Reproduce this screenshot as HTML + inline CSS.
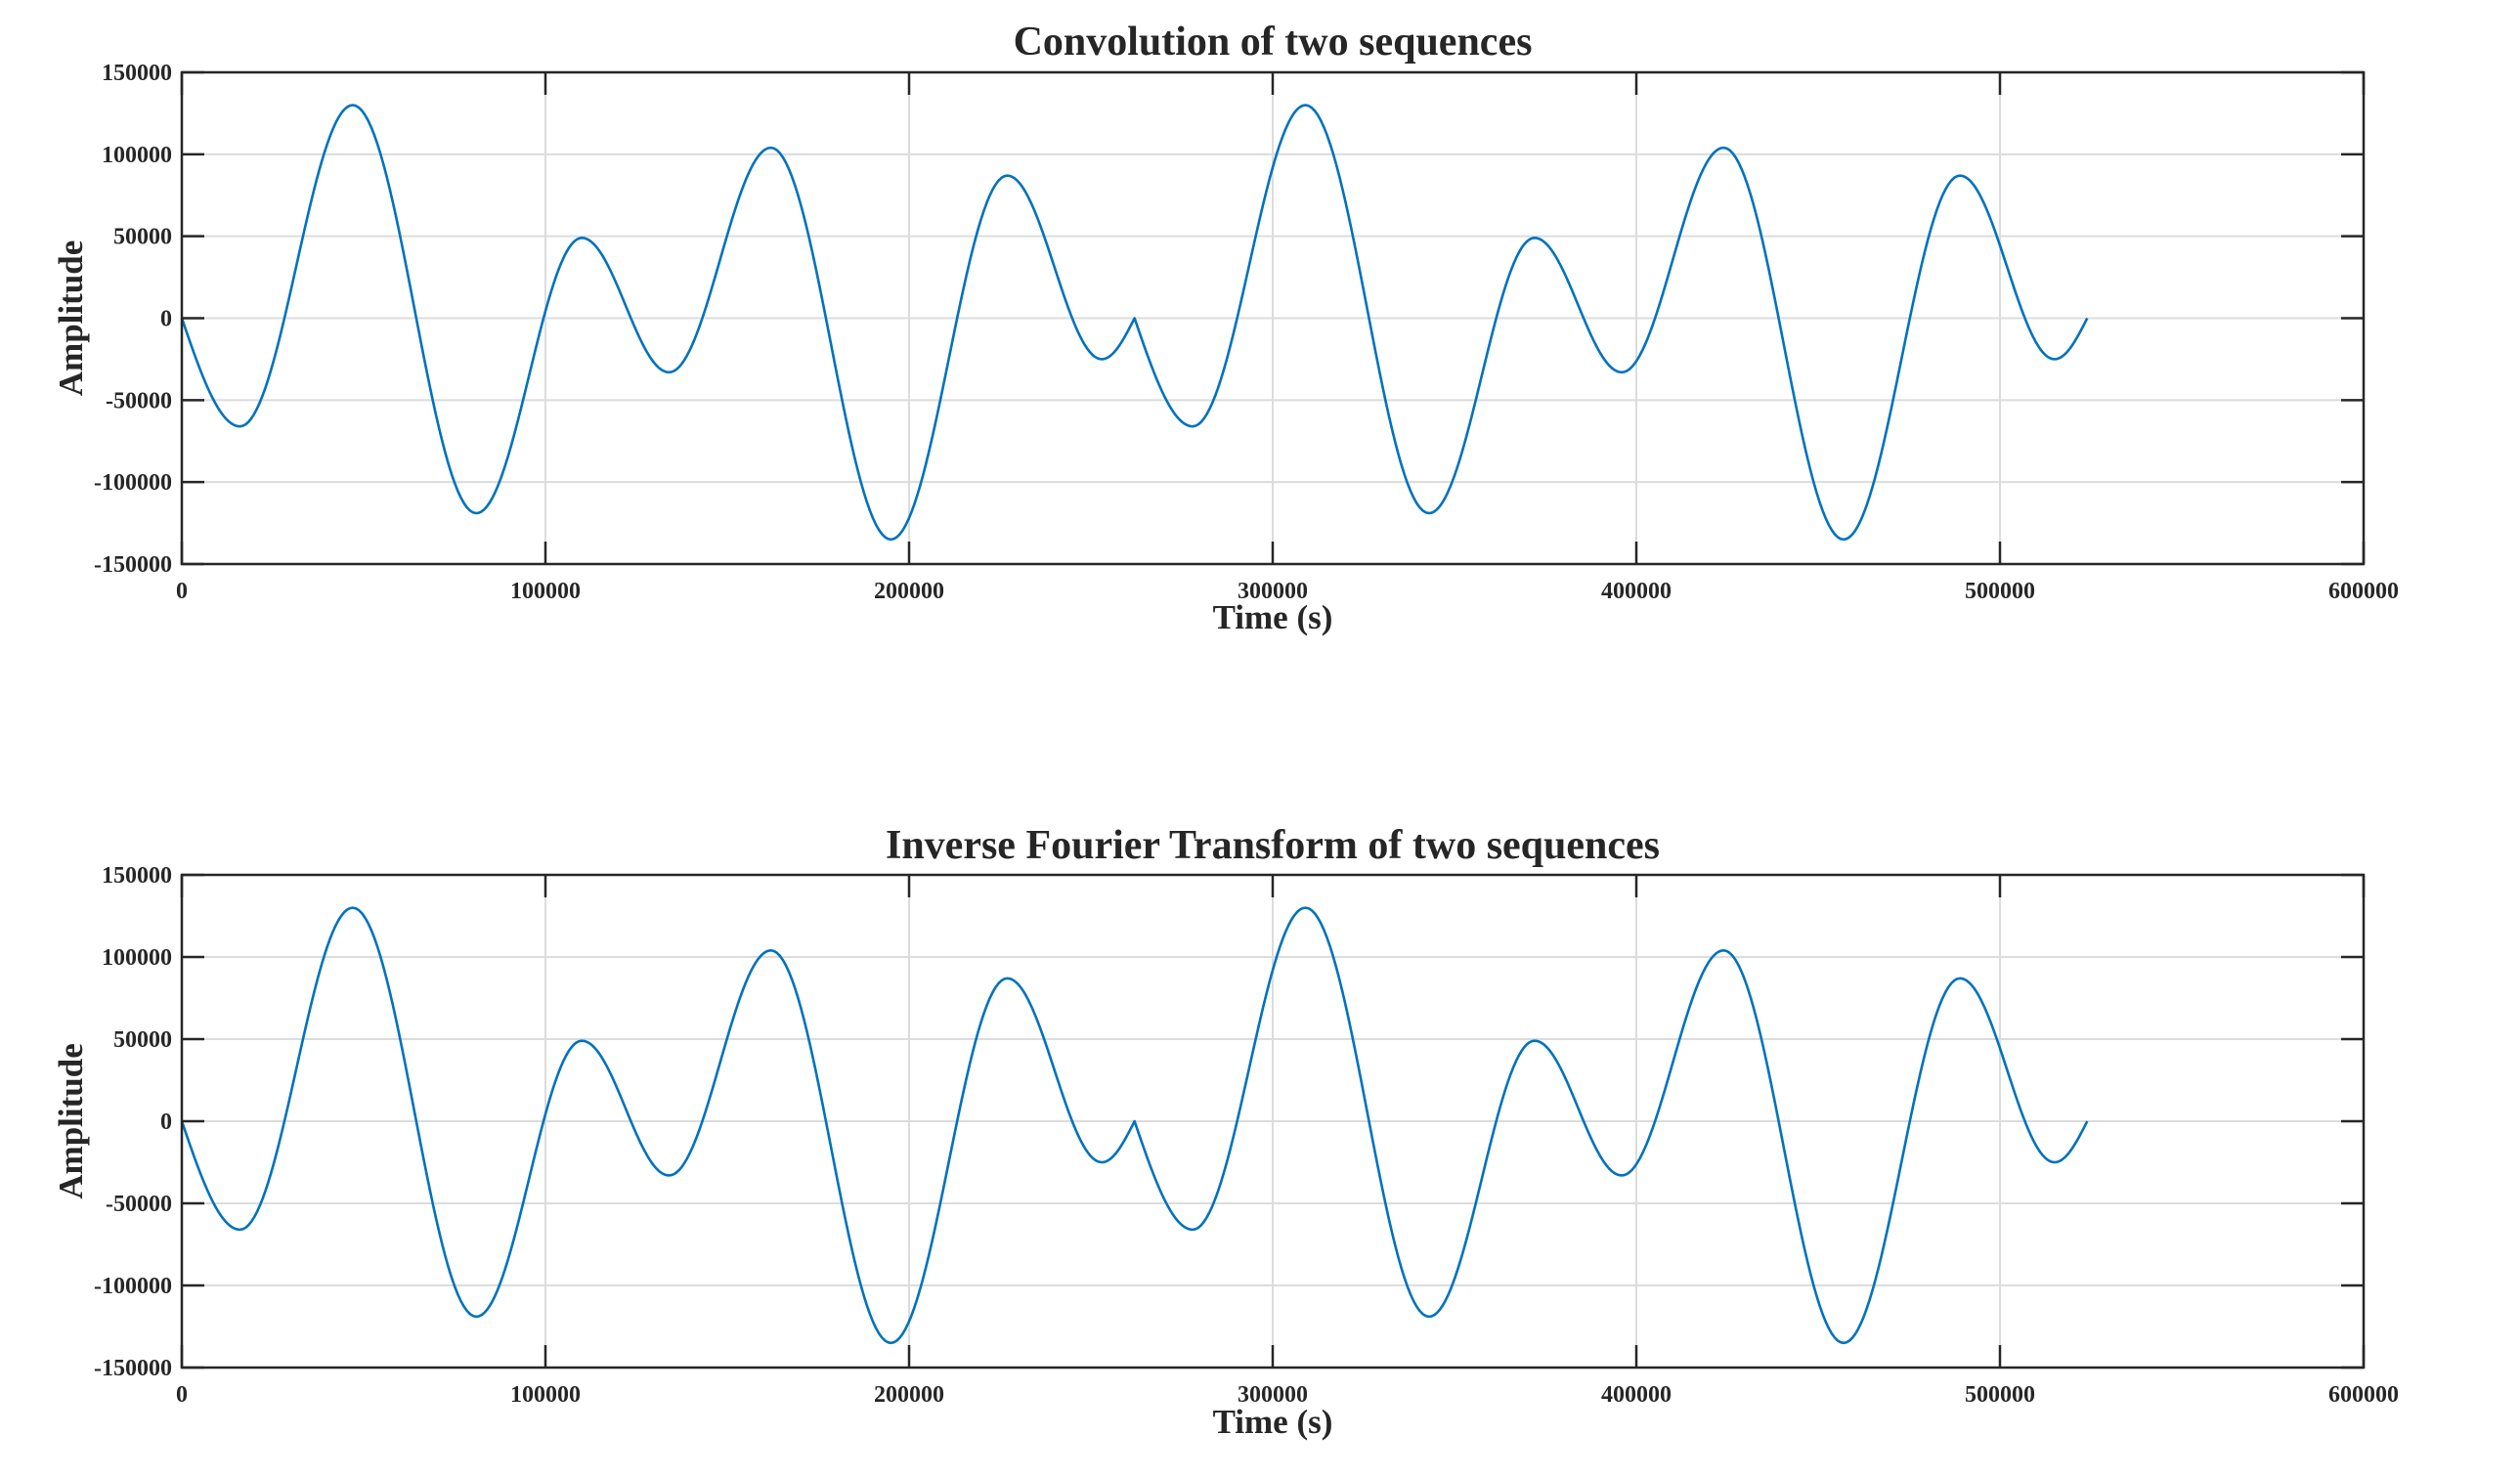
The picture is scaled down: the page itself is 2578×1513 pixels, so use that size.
<!DOCTYPE html>
<html><head><meta charset="utf-8"><style>
html,body{margin:0;padding:0;background:#fff;}
svg text{font-family:"Liberation Serif",serif;font-weight:bold;fill:#262626;}
</style></head><body>
<svg id="fig" width="2578" height="1508" viewBox="0 0 2578 1508" xmlns="http://www.w3.org/2000/svg"></svg>
<script>
const xTicks=[0,100000,200000,300000,400000,500000,600000];
const yTicks=[-150000,-100000,-50000,0,50000,100000,150000];
const seriesX=[0,16000,47000,81000,110000,134000,162000,195000,227000,253000,262000,
278000,309000,343000,372000,396000,424000,457000,489000,515000,524000];
const seriesY=[0,-66000,130000,-119000,49000,-33000,104000,-135000,87000,-25000,0,
-66000,130000,-119000,49000,-33000,104000,-135000,87000,-25000,0];
const titles=["Convolution of two sequences","Inverse Fourier Transform of two sequences"];
const NS="http://www.w3.org/2000/svg";
const svg=document.getElementById('fig');
function mk(tag,attrs,parent){const e=document.createElementNS(NS,tag);for(const k in attrs)e.setAttribute(k,attrs[k]);(parent||svg).appendChild(e);return e;}
function curvePath(xs,ys,sx,sy){
 let p='M'+sx(xs[0]).toFixed(2)+','+sy(ys[0]).toFixed(2);
 for(let i=0;i<xs.length-1;i++){
  const a=ys[i],b=ys[i+1],N=40;
  for(let k=1;k<=N;k++){const t=k/N;let y;
   if(a===0&&b!==0) y=b*Math.sin(Math.PI/2*t);
   else if(b===0&&a!==0) y=a*Math.cos(Math.PI/2*t);
   else y=a+(b-a)*(1-Math.cos(Math.PI*t))/2;
   const x=xs[i]+(xs[i+1]-xs[i])*t;
   p+=' L'+sx(x).toFixed(2)+','+sy(y).toFixed(2);}
 }
 return p;}
const L=186,R=2418;
const panels=[{top:74,bot:577,title:42,xl:632},{top:895,bot:1399,title:864,xl:1455}];
panels.forEach((P,pi)=>{
 const g=mk('g',{});
 
 
 const sx=v=>L+(v-xTicks[0])/(xTicks[xTicks.length-1]-xTicks[0])*(R-L);
 const sy=v=>P.bot-(v-yTicks[0])/(yTicks[yTicks.length-1]-yTicks[0])*(P.bot-P.top);
 xTicks.forEach(t=>{const l=mk('line',{x1:sx(t),x2:sx(t),y1:P.top,y2:P.bot,stroke:'#dcdcdc','stroke-width':2},g);
  });
 yTicks.forEach(t=>{const l=mk('line',{x1:L,x2:R,y1:sy(t),y2:sy(t),stroke:'#dcdcdc','stroke-width':2},g);
  });
 const pth=mk('path',{d:curvePath(seriesX,seriesY,sx,sy),fill:'none',stroke:'#0072BD','stroke-width':2.6,'stroke-linejoin':'round'},g);
 
 const box=mk('rect',{x:L,y:P.top,width:R-L,height:P.bot-P.top,fill:'none',stroke:'#262626','stroke-width':2.5},g);
 
 xTicks.forEach(t=>{
  mk('line',{x1:sx(t),x2:sx(t),y1:P.bot,y2:P.bot-23,stroke:'#262626','stroke-width':2.5},g);
  mk('line',{x1:sx(t),x2:sx(t),y1:P.top,y2:P.top+23,stroke:'#262626','stroke-width':2.5},g);
  const tx=mk('text',{x:sx(t),y:P.bot+35,'text-anchor':'middle','font-size':24},g);tx.textContent=String(t);
  });
 yTicks.forEach(t=>{
  mk('line',{x1:L,x2:L+23,y1:sy(t),y2:sy(t),stroke:'#262626','stroke-width':2.5},g);
  mk('line',{x1:R,x2:R-23,y1:sy(t),y2:sy(t),stroke:'#262626','stroke-width':2.5},g);
  const tx=mk('text',{x:L-10,y:sy(t)+8,'text-anchor':'end','font-size':24},g);tx.textContent=String(t);
  });
 const ti=mk('text',{x:(L+R)/2,y:P.title+14,'text-anchor':'middle','font-size':42,fill:'#000'},g);ti.textContent=titles[pi];
 
 const xl=mk('text',{x:(L+R)/2,y:P.xl+11,'text-anchor':'middle','font-size':35},g);xl.textContent='Time (s)';
 
 const cy=(P.top+P.bot)/2;
 const yl=mk('text',{x:84,y:cy,'text-anchor':'middle','font-size':35,transform:'rotate(-90 84 '+cy+')'},g);yl.textContent='Amplitude';
 
});
</script>
</body></html>
